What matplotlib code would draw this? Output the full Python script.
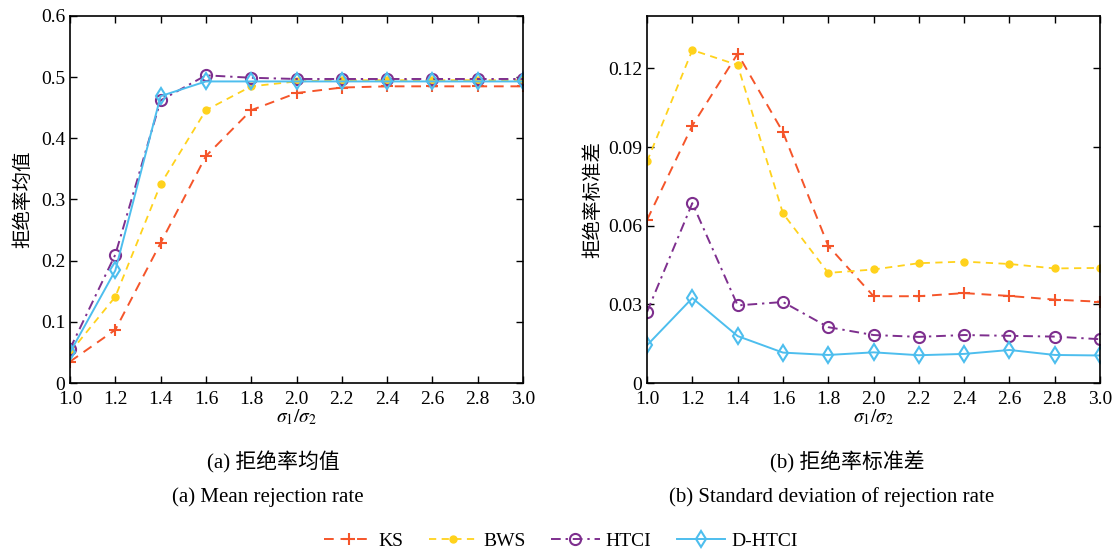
import matplotlib
matplotlib.use('Agg')
import matplotlib.pyplot as plt

plt.rcParams['font.family'] = ['Liberation Serif', 'Noto Sans CJK SC']
plt.rcParams['mathtext.fontset'] = 'stix'

# ratio sigma1/sigma2
ratio = [1.0, 1.2, 1.4, 1.6, 1.8, 2.0, 2.2, 2.4, 2.6, 2.8, 3.0]

# (a) mean rejection rate
mean_ks = [0.035, 0.087, 0.229, 0.371, 0.446, 0.474, 0.483, 0.485, 0.485, 0.485, 0.485]
mean_bws = [0.050, 0.141, 0.325, 0.446, 0.485, 0.493, 0.495, 0.495, 0.495, 0.495, 0.495]
mean_htci = [0.056, 0.210, 0.462, 0.503, 0.499, 0.497, 0.497, 0.497, 0.497, 0.497, 0.497]
mean_dhtci = [0.050, 0.184, 0.469, 0.493, 0.493, 0.493, 0.493, 0.493, 0.493, 0.493, 0.493]

# (b) standard deviation of rejection rate
std_ks = [0.0622, 0.0982, 0.1256, 0.0957, 0.0523, 0.0331, 0.0331, 0.0343, 0.0332, 0.0318, 0.0310]
std_bws = [0.0845, 0.1270, 0.1213, 0.0647, 0.0420, 0.0433, 0.0457, 0.0463, 0.0454, 0.0437, 0.0439]
std_htci = [0.0271, 0.0686, 0.0296, 0.0309, 0.0213, 0.0183, 0.0176, 0.0183, 0.0180, 0.0177, 0.0167]
std_dhtci = [0.0144, 0.0324, 0.0179, 0.0116, 0.0107, 0.0117, 0.0106, 0.0111, 0.0126, 0.0107, 0.0105]

names = ['KS', 'BWS', 'HTCI', 'D-HTCI']
colors = ['#F5552A', '#FFD21C', '#7E2F8E', '#4DBEEE']

fig = plt.figure(figsize=(11.15, 5.53), dpi=100)
ax1 = fig.add_axes([0.0628, 0.3074, 0.4063, 0.6637])
ax2 = fig.add_axes([0.5803, 0.3074, 0.4063, 0.6637])


def draw(ax, series):
    lines = []
    l, = ax.plot(ratio, series[0], color=colors[0], lw=1.4, dashes=(5, 3.5),
                 marker='+', ms=9, mew=1.5)
    lines.append(l)
    l, = ax.plot(ratio, series[1], color=colors[1], lw=1.3, dashes=(4, 3),
                 marker='o', ms=5, mfc=colors[1], mec=colors[1])
    lines.append(l)
    l, = ax.plot(ratio, series[2], color=colors[2], lw=1.4, dashes=(5, 2.5, 1.2, 2.5),
                 marker='o', ms=8, mfc='none', mew=1.5)
    lines.append(l)
    l, = ax.plot(ratio, series[3], color=colors[3], lw=1.4, ls='-',
                 marker='d', ms=8, mfc='none', mew=1.5)
    lines.append(l)
    ax.set_xlim(1.0, 3.0)
    ax.set_xticks(ratio)
    ax.set_xticklabels(['%.1f' % v for v in ratio])
    ax.tick_params(direction='in', top=True, right=True, length=5, width=1,
                   labelsize=14)
    ax.tick_params(axis='x', pad=6)
    for s in ax.spines.values():
        s.set_linewidth(1.2)
    ax.set_xlabel(r'$\sigma_1/\sigma_2$', fontsize=14, labelpad=-1)
    return lines


lines = draw(ax1, [mean_ks, mean_bws, mean_htci, mean_dhtci])
ax1.set_ylim(0, 0.6)
ax1.set_yticks([0, 0.1, 0.2, 0.3, 0.4, 0.5, 0.6])
ax1.set_yticklabels(['0', '0.1', '0.2', '0.3', '0.4', '0.5', '0.6'])
ax1.set_ylabel('拒绝率均值', fontsize=14, labelpad=6)

draw(ax2, [std_ks, std_bws, std_htci, std_dhtci])
ax2.set_ylim(0, 0.14)
ax2.set_yticks([0, 0.03, 0.06, 0.09, 0.12])
ax2.set_yticklabels(['0', '0.03', '0.06', '0.09', '0.12'])
ax2.set_ylabel('拒绝率标准差', fontsize=14, labelpad=4)

# captions
fig.text(273 / 1115, 1 - 462 / 553, '(a) 拒绝率均值', ha='center', va='center', fontsize=15)
fig.text(268 / 1115, 1 - 497 / 553, '(a) Mean rejection rate', ha='center', va='center', fontsize=15)
fig.text(847 / 1115, 1 - 462 / 553, '(b) 拒绝率标准差', ha='center', va='center', fontsize=15)
fig.text(832 / 1115, 1 - 497 / 553, '(b) Standard deviation of rejection rate', ha='center',
         va='center', fontsize=15)

fig.legend(lines, names, loc='center', bbox_to_anchor=(0.503, 1 - 541 / 553), ncol=4,
           frameon=False, fontsize=14, handlelength=2.5, columnspacing=1.3,
           handletextpad=0.3)

fig.savefig('out.png', dpi=100)
